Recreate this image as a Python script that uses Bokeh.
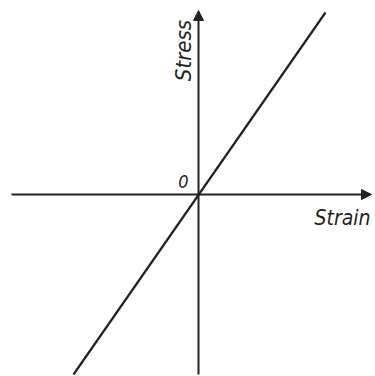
from bokeh.plotting import figure
from bokeh.models import Range1d, Arrow, NormalHead, ColumnDataSource
from bokeh.embed import file_html
from bokeh.resources import INLINE
from bokeh.core.properties import value
import math

# Data (arbitrary units, origin at the intersection of the axes)
strain_axis = [-187, 173]     # horizontal axis extent (arrow at right end)
stress_axis = [-180, 184]     # vertical axis extent (arrow at top end)
line_strain = [-125, 127]     # linear stress-strain relation
line_stress = [-180, 182]

labels = ["Stress", "Strain", "0"]
label_x = [-15, 144, -15]
label_y = [144, -23, 13]
label_angle = [math.pi / 2, 0, 0]
label_size = ["22px", "21px", "18px"]

INK = "#222222"
FONT = "DejaVu Sans Condensed"

p = figure(width=375, height=376, output_backend="svg", toolbar_location=None,
           x_range=Range1d(-198, 177), y_range=Range1d(-182, 194),
           x_axis_location=None, y_axis_location=None, min_border=0)
p.grid.visible = False
p.outline_line_color = None
p.background_fill_color = "white"

# axes with arrowheads
p.add_layout(Arrow(x_start=strain_axis[0], y_start=0, x_end=strain_axis[1], y_end=0,
                   line_width=2, line_color=INK,
                   end=NormalHead(size=10, fill_color=INK, line_color=INK, line_width=1)))
p.add_layout(Arrow(x_start=0, y_start=stress_axis[0], x_end=0, y_end=stress_axis[1],
                   line_width=2, line_color=INK,
                   end=NormalHead(size=10, fill_color=INK, line_color=INK, line_width=1)))

# the stress-strain line
p.line(line_strain, line_stress, line_width=2.2, line_color=INK)

src = ColumnDataSource(dict(x=label_x, y=label_y, text=labels, angle=label_angle, size=label_size))
p.text(x="x", y="y", text="text", angle="angle", text_font_size="size", source=src,
       text_font=value(FONT), text_font_style="italic", text_color=INK,
       text_align="center", text_baseline="alphabetic")

open("out.html", "w").write(file_html(p, INLINE))
